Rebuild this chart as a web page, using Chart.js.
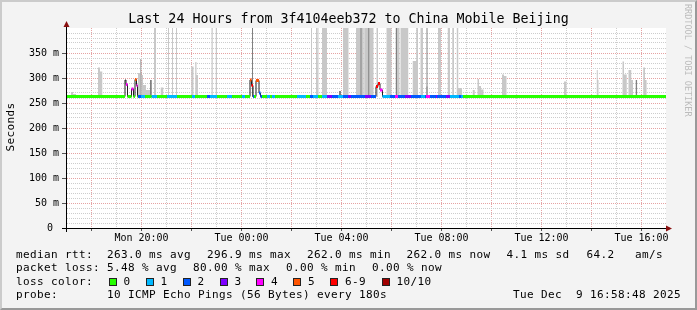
<!DOCTYPE html>
<html><head><meta charset="utf-8">
<script src="https://cdn.jsdelivr.net/npm/chart.js@4.4.1/dist/chart.umd.min.js"></script>
<style>
html,body{margin:0;padding:0;}
body{width:697px;height:310px;overflow:hidden;position:relative;background:#f3f3f3;font-family:"DejaVu Sans Mono",monospace;}
#frame{position:absolute;left:0;top:0;width:697px;height:310px;box-sizing:border-box;border-top:2px solid #cbcbcb;border-left:2px solid #cbcbcb;border-right:2px solid #999;border-bottom:2px solid #999;pointer-events:none;}
canvas{position:absolute;left:0;top:0;}
.t{position:absolute;white-space:pre;color:#000;font-size:11px;line-height:14px;letter-spacing:0.38px;}
.box{position:absolute;width:8px;height:8px;box-sizing:border-box;border:1px solid #222;}
#title{position:absolute;left:0;top:11px;width:697px;text-align:center;font-size:13.3px;line-height:16px;white-space:pre;color:#000;}
#ylab{position:absolute;left:11px;top:127px;font-size:11px;line-height:12px;letter-spacing:0.38px;transform:translate(-50%,-50%) rotate(-90deg);white-space:pre;}
#rrd{position:absolute;left:683px;top:4px;font-size:8.5px;writing-mode:vertical-rl;color:#bcbcbc;white-space:pre;line-height:10px;}
</style></head>
<body>
<canvas id="c" width="697" height="310"></canvas>
<div id="title">Last 24 Hours from 3f4104eeb372 to China Mobile Beijing</div>
<div id="ylab">Seconds</div>
<div id="rrd">RRDTOOL / TOBI OETIKER</div>
<div id="legend"></div>
<div id="frame"></div>
<script>
// ---- time axis (hours since Mon 00:00) ----
const START = 16.98, END = 40.98;
// ---- median / loss steps: each applies from stepHour[i] to the next step ----
const stepHour   = [16.98,19.34,19.38,19.44,19.60,19.68,19.74,19.80,19.84,19.86,19.98,20.14,20.40,20.62,21.02,21.42,22.02,22.14,22.62,22.74,23.02,23.42,23.62,24.02,24.14,24.34,24.40,24.46,24.50,24.58,24.70,24.76,24.82,25.02,25.14,25.22,25.34,26.22,26.58,26.74,26.86,27.06,27.22,27.42,27.62,27.86,28.06,28.26,28.38,28.94,29.18,29.38,29.46,29.54,29.64,29.94,30.14,30.26,30.54,30.78,31.18,31.34,31.38,31.54,31.78,31.82,32.18,32.34,32.70,32.78,32.86];
const stepMedian = [263,  296,  287,  263,  278,  263,  297,  285,  263,  263,  263,  263,  263,  263,  263,  263,  263,  263,  263,  263,  263,  263,  263,  263,  263,  296,  285,  263,  263,  295,  270,  263,  263,  263,  263,  263,  263,  263,  263,  263,  263,  263,  263,  263,  263,  263,  263,  263,  263,  263,  263,  283,  289,  276,  263,  263,  263,  263,  263,  263,  263,  263,  263,  263,  263,  263,  263,  263,  263,  263,  263];
const stepLoss   = [0,    5,    4,    0,    4,    0,    5,    4,    0,    2,    1,    0,    1,    0,    1,    0,    1,    0,    2,    1,    0,    1,    0,    1,    0,    5,    6,    2,    0,    5,    2,    2,    0,    1,    0,    1,    0,    1,    0,    2,    1,    0,    1,    3,    2,    1,    2,    3,    2,    3,    2,    6,    6,    4,    1,    2,    4,    2,    3,    2,    1,    2,    4,    2,    3,    2,    3,    1,    2,    1,    0];
// ---- smoke (light grey) ----
const smokeFrom = [17.18,17.26,18.26,18.34,19.86,19.99,20.06,20.18,20.50,20.77,21.06,21.22,21.38,21.99,22.15,22.20,22.80,22.97,26.78,26.98,27.04,27.22,28.06,28.58,28.91,29.40,29.80,30.16,30.36,30.85,30.99,31.16,31.38,31.86,32.25,32.43,32.61,32.67,33.25,33.44,33.50,33.58,34.42,34.50,36.90,38.21,38.25,39.24,39.30,39.48,39.59,40.07,40.14];
const smokeTo   = [17.26,17.38,18.34,18.43,19.95,20.06,20.18,20.34,20.58,20.87,21.10,21.26,21.42,22.08,22.20,22.26,22.85,23.02,26.82,27.02,27.08,27.42,28.28,28.89,29.28,29.46,30.00,30.32,30.67,30.99,31.06,31.26,31.46,31.98,32.34,32.50,32.67,32.82,33.33,33.50,33.58,33.68,34.50,34.60,37.00,38.25,38.28,39.30,39.41,39.59,39.66,40.14,40.21];
const smokeTop  = [272,  268,  321,  313,  310,  306,  286,  276,  400,  281,  400,  400,  400,  323,  332,  306,  400,  400,  400,  400,  400,  400,  400,  400,  400,  400,  400,  400,  400,  334,  400,  400,  283,  400,  400,  400,  400,  280,  276,  298,  284,  277,  307,  304,  293,  316,  296,  333,  307,  316,  296,  321,  296];
// ---- smoke (dark grey) ----
const darkFrom = [19.95,20.34,24.42,27.90,28.76,29.07,30.18,31.40,39.77];
const darkTo   = [19.99,20.41,24.46,27.98,28.80,29.11,30.22,31.44,39.83];
const darkTop  = [338,  296,  400,  274,  400,  400,  400,  400,  296];
// ---- loss legend ----
const lossNames  = ['0','1','2','3','4','5','6-9','10/10'];
const lossColors = ['#26ff00','#00b8ff','#0059ff','#7e00ff','#ff00ff','#ff5500','#ff0000','#a10000'];
// ---- y tick labels (ms) ----
const yLabelValues = [0,50,100,150,200,250,300,350];

const SMOKE_BASE = 262;
function smokePoints(from, to, top) {
  const p = [];
  for (let i = 0; i < from.length; i++) {
    p.push({x: from[i], y: SMOKE_BASE}, {x: from[i], y: top[i]}, {x: to[i], y: top[i]}, {x: to[i], y: SMOKE_BASE});
  }
  return p;
}
const medPts = stepHour.map((h, i) => ({x: h, y: stepMedian[i]}));
medPts.push({x: END, y: stepMedian[stepMedian.length - 1]});

const bandSets = lossColors.map((col, k) => {
  const d = [];
  stepHour.forEach((h, i) => {
    if (stepLoss[i] !== k) return;
    const h2 = i + 1 < stepHour.length ? stepHour[i + 1] : END;
    d.push({x: h, y: stepMedian[i]}, {x: h2, y: stepMedian[i]}, {x: h2, y: null});
  });
  return {type: 'line', data: d, borderColor: col, borderWidth: 3, borderCapStyle: 'butt',
          pointRadius: 0, spanGaps: false, fill: false, order: 1};
});

const MAJOR = '#e6a3a3', MINOR = '#cdcdcd';
const AXIS_ARROW = '#8a1010';

const decor = {
  id: 'decor',
  beforeDraw(chart) {
    const {ctx, chartArea: a} = chart;
    ctx.save();
    ctx.fillStyle = '#ffffff';
    ctx.fillRect(a.left, a.top, a.right - a.left, a.bottom - a.top);
    ctx.restore();
  },
  afterDraw(chart) {
    const {ctx, chartArea: a} = chart;
    ctx.save();
    ctx.strokeStyle = '#000';
    ctx.lineWidth = 1;
    ctx.beginPath();
    ctx.moveTo(a.left + 0.5, a.bottom + 4); ctx.lineTo(a.left + 0.5, a.top - 3);
    ctx.moveTo(a.left - 4, a.bottom + 0.5); ctx.lineTo(a.right + 3, a.bottom + 0.5);
    ctx.stroke();
    ctx.fillStyle = AXIS_ARROW;
    ctx.beginPath();
    ctx.moveTo(a.left + 0.5, a.top - 7); ctx.lineTo(a.left - 2.5, a.top - 1); ctx.lineTo(a.left + 3.5, a.top - 1); ctx.closePath();
    ctx.fill();
    ctx.beginPath();
    ctx.moveTo(a.right + 6, a.bottom + 0.5); ctx.lineTo(a.right, a.bottom - 2.5); ctx.lineTo(a.right, a.bottom + 3.5); ctx.closePath();
    ctx.fill();
    ctx.restore();
  }
};

new Chart(document.getElementById('c'), {
  type: 'line',
  data: {
    datasets: [
      {type: 'line', data: smokePoints(smokeFrom, smokeTo, smokeTop), borderWidth: 0, pointRadius: 0,
       backgroundColor: '#c8c8c8', fill: {value: SMOKE_BASE}, order: 5},
      {type: 'line', data: smokePoints(darkFrom, darkTo, darkTop), borderWidth: 0, pointRadius: 0,
       backgroundColor: '#808080', fill: {value: SMOKE_BASE}, order: 4},
      {type: 'line', data: medPts, stepped: true, borderColor: '#202020', borderWidth: 1,
       pointRadius: 0, fill: false, order: 3},
      ...bandSets
    ]
  },
  options: {
    responsive: false, animation: false, devicePixelRatio: 1,
    parsing: true, normalized: true,
    layout: {padding: {left: 0, top: 28, right: 31, bottom: 0}},
    plugins: {legend: {display: false}, tooltip: {enabled: false}, title: {display: false}},
    scales: {
      x: {
        type: 'linear', min: START, max: END,
        afterFit(s) { s.height = 82; },
        afterBuildTicks(s) { const t = []; for (let h = 17; h <= 40; h++) t.push({value: h}); s.ticks = t; },
        ticks: {autoSkip: false, maxRotation: 0, padding: 1, color: '#000',
          font: {family: 'DejaVu Sans Mono', size: 10},
          callback: v => (v % 4 === 0) ? (v < 24 ? 'Mon ' : 'Tue ') + String(v % 24).padStart(2, '0') + ':00' : ''},
        grid: {color: c => (c.tick && c.tick.value % 2 === 0) ? MAJOR : MINOR, lineWidth: 1,
          drawTicks: true, tickLength: 3, tickWidth: 1,
          tickColor: c => (c.tick && c.tick.value % 2 === 0) ? '#555' : 'rgba(0,0,0,0)'},
        border: {display: true, color: '#000', width: 1, dash: [1, 1]}
      },
      y: {
        min: 0, max: 400,
        afterFit(s) { s.width = 66; },
        afterBuildTicks(s) { const t = []; for (let v = 0; v < 400; v += 10) t.push({value: v}); s.ticks = t; },
        ticks: {autoSkip: false, padding: 3, color: '#000',
          font: {family: 'DejaVu Sans Mono', size: 10},
          callback: v => yLabelValues.includes(v) ? (v === 0 ? '0 ' : v + ' m') : ''},
        grid: {color: c => (c.tick && c.tick.value % 50 === 0) ? MAJOR : MINOR, lineWidth: 1,
          drawTicks: true, tickLength: 4, tickWidth: 1,
          tickColor: c => (c.tick && c.tick.value % 50 === 0) ? '#555' : 'rgba(0,0,0,0)'},
        border: {display: true, color: '#000', width: 1, dash: [1, 1]}
      }
    }
  },
  plugins: [decor]
});

// ---- legend (HTML text) ----
const legend = document.getElementById('legend');
function txt(x, top, s) { const d = document.createElement('div'); d.className = 't'; d.style.left = x + 'px'; d.style.top = top + 'px'; d.textContent = s; legend.appendChild(d); }
const rowTop = [247.5, 261, 274.5, 287.5];
const row1 = [[16,'median rtt:'],[107,'263.0 ms avg'],[207,'296.9 ms max'],[307,'262.0 ms min'],[406.5,'262.0 ms now'],[506.5,'4.1 ms sd'],[586.5,'64.2'],[635,'am/s']];
const row2 = [[16,'packet loss:'],[107,'5.48 % avg'],[193,'80.00 % max'],[286,'0.00 % min'],[372,'0.00 % now']];
const row4 = [[16,'probe:'],[107,'10 ICMP Echo Pings (56 Bytes) every 180s'],[513,'Tue Dec  9 16:58:48 2025']];
row1.forEach(([x, s]) => txt(x, rowTop[0], s));
row2.forEach(([x, s]) => txt(x, rowTop[1], s));
row4.forEach(([x, s]) => txt(x, rowTop[3], s));
txt(16, rowTop[2], 'loss color:');
const boxX = [108.5, 145.5, 182.5, 219.5, 256, 293, 330, 381.5];
lossNames.forEach((n, k) => {
  const b = document.createElement('div'); b.className = 'box';
  b.style.left = boxX[k] + 'px'; b.style.top = '278px'; b.style.background = lossColors[k];
  legend.appendChild(b);
  txt(boxX[k] + 15, rowTop[2], n);
});
</script>
</body></html>
